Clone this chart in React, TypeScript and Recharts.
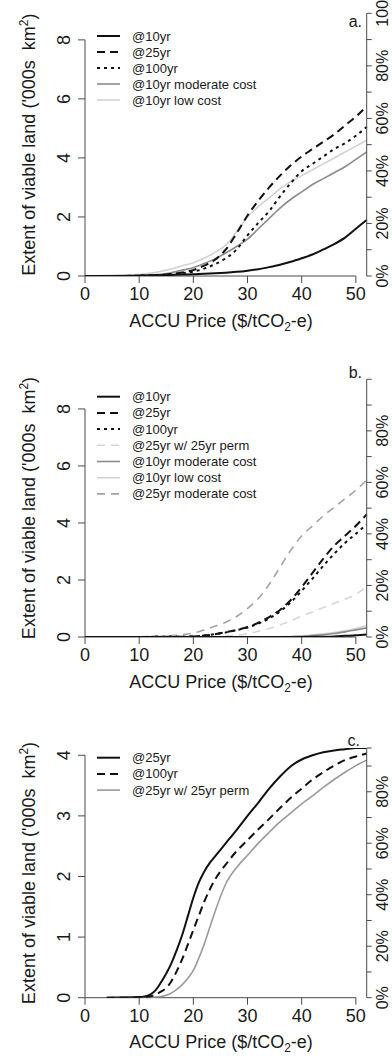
import React from 'react';
import { LineChart, Line, XAxis, YAxis, ReferenceLine } from 'recharts';

const FONT = "'Liberation Sans', Arial, Helvetica, sans-serif";
const AXIS = '#4a4a4a';
const INK = '#1a1a1a';

// ---------- Panel a ----------
const priceA = [0, 5, 10, 15, 18, 20, 22, 24, 26, 28, 30, 32, 34, 36, 38, 40, 42, 44, 46, 48, 50, 52];
const a10yr = [0, 0, 0.01, 0.03, 0.05, 0.06, 0.08, 0.09, 0.11, 0.14, 0.18, 0.23, 0.3, 0.38, 0.48, 0.6, 0.73, 0.9, 1.08, 1.3, 1.6, 1.9];
const a25yr = [0, 0, 0.01, 0.05, 0.12, 0.2, 0.35, 0.55, 0.9, 1.45, 2.05, 2.55, 3.0, 3.4, 3.75, 4.05, 4.3, 4.55, 4.8, 5.1, 5.4, 5.75];
const a100yr = [0, 0, 0.01, 0.04, 0.1, 0.15, 0.25, 0.4, 0.6, 0.9, 1.38, 1.8, 2.2, 2.7, 3.15, 3.55, 3.8, 4.05, 4.3, 4.5, 4.75, 5.05];
const a10yrModerate = [0, 0.01, 0.02, 0.08, 0.2, 0.28, 0.42, 0.58, 0.78, 1.0, 1.25, 1.6, 1.95, 2.3, 2.6, 2.85, 3.1, 3.3, 3.5, 3.7, 3.95, 4.2];
const a10yrLow = [0, 0.02, 0.05, 0.2, 0.35, 0.45, 0.6, 0.8, 1.05, 1.5, 2.0, 2.35, 2.65, 2.95, 3.2, 3.4, 3.6, 3.8, 4.0, 4.2, 4.4, 4.6];

// ---------- Panel b ----------
const priceB = [0, 5, 10, 15, 18, 20, 22, 24, 26, 28, 30, 32, 34, 36, 38, 40, 42, 44, 46, 48, 50, 52];
const b10yr = [0, 0, 0, 0, 0, 0, 0, 0, 0, 0, 0, 0, 0, 0, 0, 0, 0.005, 0.01, 0.02, 0.04, 0.06, 0.09];
const b25yr = [0, 0, 0, 0.01, 0.01, 0.02, 0.05, 0.1, 0.17, 0.25, 0.35, 0.5, 0.7, 0.95, 1.3, 1.75, 2.25, 2.75, 3.2, 3.55, 3.9, 4.3];
const b100yr = [0, 0, 0, 0.01, 0.01, 0.02, 0.05, 0.1, 0.16, 0.24, 0.33, 0.47, 0.65, 0.9, 1.22, 1.62, 2.05, 2.5, 2.92, 3.3, 3.62, 3.95];
const b25yrPerm = [0, 0, 0, 0, 0, 0, 0.005, 0.01, 0.03, 0.06, 0.12, 0.2, 0.3, 0.42, 0.57, 0.73, 0.88, 1.03, 1.18, 1.33, 1.5, 1.78];
const b10yrModerate = [0, 0, 0, 0, 0, 0, 0, 0, 0, 0, 0, 0, 0, 0.005, 0.01, 0.02, 0.05, 0.08, 0.12, 0.18, 0.25, 0.32];
const b10yrLow = [0, 0, 0, 0, 0, 0, 0, 0, 0, 0, 0, 0, 0, 0.01, 0.02, 0.04, 0.07, 0.11, 0.16, 0.22, 0.3, 0.4];
const b25yrModerate = [0, 0, 0.01, 0.03, 0.08, 0.14, 0.25, 0.38, 0.52, 0.72, 1.0, 1.35, 1.85, 2.45, 3.05, 3.55, 3.9, 4.25, 4.55, 4.85, 5.15, 5.5];

// ---------- Panel c ----------
const priceC = [4, 10, 11, 12, 13, 14, 15, 16, 17, 18, 19, 20, 21, 22, 23, 24, 26, 28, 30, 32, 34, 36, 38, 40, 42, 44, 46, 48, 50, 52];
const c25yr = [0, 0.01, 0.02, 0.05, 0.12, 0.25, 0.4, 0.58, 0.8, 1.05, 1.35, 1.65, 1.9, 2.08, 2.22, 2.33, 2.55, 2.77, 3.0, 3.22, 3.45, 3.65, 3.82, 3.93, 4.0, 4.05, 4.08, 4.1, 4.12, 4.12];
const c100yr = [0, 0, 0.01, 0.02, 0.05, 0.1, 0.16, 0.28, 0.45, 0.65, 0.88, 1.12, 1.35, 1.58, 1.78, 1.95, 2.2, 2.42, 2.6, 2.78, 2.95, 3.13, 3.3, 3.45, 3.6, 3.72, 3.83, 3.92, 3.98, 4.03];
const c25yrPerm = [0, 0, 0, 0, 0.01, 0.02, 0.04, 0.08, 0.14, 0.22, 0.32, 0.45, 0.65, 0.88, 1.15, 1.42, 1.88, 2.15, 2.35, 2.55, 2.73, 2.9, 3.05, 3.2, 3.33, 3.47, 3.6, 3.72, 3.83, 3.92];

// ---------- Ticks / labels ----------
const xTicks = [0, 10, 20, 30, 40, 50];
const yTicksAB = [0, 2, 4, 6, 8];
const yTicksC = [0, 1, 2, 3, 4];
const pctTicksFull = [0, 10, 20, 30, 40, 50, 60, 70, 80, 90, 100];
const pctTicksC = [0, 10, 20, 30, 40, 50, 60, 70, 80, 90, 97];
const pctLabelsA: Record<number, string> = { 0: '0%', 20: '20%', 40: '40%', 60: '60%', 80: '80%', 100: '100' };
const pctLabelsBC: Record<number, string> = { 0: '0%', 20: '20%', 40: '40%', 60: '60%', 80: '80%' };

type Spec = { key: string; name: string; values: number[]; color: string; width: number; dash?: string };

const seriesA: Spec[] = [
  { key: 'a10', name: '@10yr', values: a10yr, color: '#111', width: 2 },
  { key: 'a25', name: '@25yr', values: a25yr, color: '#111', width: 2, dash: '8 5' },
  { key: 'a100', name: '@100yr', values: a100yr, color: '#111', width: 2, dash: '3 4' },
  { key: 'aMod', name: '@10yr moderate cost', values: a10yrModerate, color: '#8c8c8c', width: 1.6 },
  { key: 'aLow', name: '@10yr low cost', values: a10yrLow, color: '#d2d2d2', width: 1.6 },
];
const seriesB: Spec[] = [
  { key: 'b10', name: '@10yr', values: b10yr, color: '#111', width: 2 },
  { key: 'b25', name: '@25yr', values: b25yr, color: '#111', width: 2, dash: '8 5' },
  { key: 'b100', name: '@100yr', values: b100yr, color: '#111', width: 2, dash: '3 4' },
  { key: 'bPerm', name: '@25yr w/ 25yr perm', values: b25yrPerm, color: '#d6d6d6', width: 1.6, dash: '8 6' },
  { key: 'bMod', name: '@10yr moderate cost', values: b10yrModerate, color: '#8c8c8c', width: 1.6 },
  { key: 'bLow', name: '@10yr low cost', values: b10yrLow, color: '#d2d2d2', width: 1.6 },
  { key: 'bMod25', name: '@25yr moderate cost', values: b25yrModerate, color: '#a3a3a3', width: 1.6, dash: '8 6' },
];
const seriesC: Spec[] = [
  { key: 'c25', name: '@25yr', values: c25yr, color: '#111', width: 2 },
  { key: 'c100', name: '@100yr', values: c100yr, color: '#111', width: 2, dash: '8 5' },
  { key: 'cPerm', name: '@25yr w/ 25yr perm', values: c25yrPerm, color: '#9a9a9a', width: 1.6 },
];

const toRows = (xs: number[], specs: Spec[]) =>
  xs.map((x, i) => {
    const r: Record<string, number> = { x };
    specs.forEach((s) => { r[s.key] = s.values[i]; });
    return r;
  });

const XTick = (p: any) => (
  <text x={p.x} y={p.y + 17} textAnchor="middle" fontSize={18} fontFamily={FONT} fill={INK}>
    {p.payload.value}
  </text>
);
const LTick = (p: any) => {
  const bx = p.x - 8;
  return (
    <text x={bx} y={p.y} transform={`rotate(-90 ${bx} ${p.y})`} textAnchor="middle" fontSize={18} fontFamily={FONT} fill={INK}>
      {p.payload.value}
    </text>
  );
};
const makeRTick = (labels: Record<number, string>) => (p: any) => {
  const lab = labels[p.payload.value];
  if (!lab) return <g />;
  const bx = p.x + 16;
  return (
    <text x={bx} y={p.y} transform={`rotate(-90 ${bx} ${p.y})`} textAnchor="middle" fontSize={16} fontFamily={FONT} fill={INK}>
      {lab}
    </text>
  );
};

type PanelProps = {
  top: number; height: number; mTop: number; mBottom: number;
  xs: number[]; specs: Spec[]; ymax: number; yTicks: number[]; yTop: number;
  rMax: number; rTicks: number[]; rLabels: Record<number, string>;
};

const Panel = ({ top, height, mTop, mBottom, xs, specs, ymax, yTicks, yTop, rMax, rTicks, rLabels }: PanelProps) => {
  const rows = toRows(xs, specs);
  return (
    <div style={{ position: 'absolute', left: 0, top, width: 392, height }}>
      <LineChart width={392} height={height} data={rows} margin={{ top: mTop, right: 5.3, bottom: mBottom, left: 25 }}>
        <XAxis dataKey="x" type="number" domain={[0, 52]} ticks={xTicks} interval={0} height={30}
          axisLine={false} tickLine={{ stroke: AXIS }} stroke={AXIS} tickSize={7} tickMargin={0} tick={XTick} />
        <YAxis yAxisId="left" type="number" domain={[0, ymax]} ticks={yTicks} interval={0} width={60}
          axisLine={false} tickLine={{ stroke: AXIS }} stroke={AXIS} tickSize={7} tickMargin={0} tick={LTick} allowDataOverflow />
        <YAxis yAxisId="right" orientation="right" type="number" domain={[0, rMax]} ticks={rTicks} interval={0} width={20}
          axisLine={{ stroke: AXIS }} tickLine={{ stroke: AXIS }} stroke={AXIS} tickSize={5} tickMargin={0}
          tick={makeRTick(rLabels)} allowDataOverflow />
        <ReferenceLine yAxisId="left" segment={[{ x: 0, y: 0 }, { x: 50, y: 0 }]} stroke={AXIS} strokeWidth={1} />
        <ReferenceLine yAxisId="left" segment={[{ x: 0, y: 0 }, { x: 0, y: yTop }]} stroke={AXIS} strokeWidth={1} />
        <Line yAxisId="right" dataKey="pctShare" stroke="none" dot={false} activeDot={false} legendType="none"
          isAnimationActive={false} />
        {specs.slice().reverse().map((s) => (
          <Line key={s.key} yAxisId="left" type="monotone" dataKey={s.key} stroke={s.color} strokeWidth={s.width}
            strokeDasharray={s.dash} dot={false} activeDot={false} isAnimationActive={false} />
        ))}
      </LineChart>
    </div>
  );
};

const Legend = ({ specs, y0, step }: { specs: Spec[]; y0: number; step: number }) => (
  <g>
    {specs.map((s, i) => {
      const y = y0 + i * step;
      return (
        <g key={s.key}>
          <line x1={97} x2={120} y1={y} y2={y} stroke={s.color} strokeWidth={s.width} strokeDasharray={s.dash} />
          <text x={132} y={y + 4.5} fontSize={13} fontFamily={FONT} fill={INK}>{s.name}</text>
        </g>
      );
    })}
  </g>
);

const XTitle = ({ y }: { y: number }) => (
  <text x={221} y={y} textAnchor="middle" fontSize={18} fontFamily={FONT} fill={INK}>
    ACCU Price ($/tCO<tspan fontSize={12} dy={4}>2</tspan><tspan dy={-4}>-e)</tspan>
  </text>
);
const YTitle = ({ cy }: { cy: number }) => (
  <text x={35} y={cy} transform={`rotate(-90 35 ${cy})`} textAnchor="middle" fontSize={18} fontFamily={FONT} fill={INK}
    style={{ whiteSpace: 'pre' }}>
    {"Extent of viable land ('000s  km"}<tspan fontSize={12} dy={-7}>2</tspan><tspan dy={7}>)</tspan>
  </text>
);

export default function App() {
  return (
    <div style={{ position: 'absolute', left: 0, top: 0, width: 392, height: 1056, background: '#fff', overflow: 'hidden' }}>
      <Panel top={0} height={340} mTop={13.3} mBottom={34} xs={priceA} specs={seriesA}
        ymax={8.9} yTicks={yTicksAB} yTop={8} rMax={100} rTicks={pctTicksFull} rLabels={pctLabelsA} />
      <Panel top={350} height={350} mTop={29.3} mBottom={33} xs={priceB} specs={seriesB}
        ymax={9.04} yTicks={yTicksAB} yTop={8} rMax={100} rTicks={pctTicksFull} rLabels={pctLabelsBC} />
      <Panel top={710} height={346} mTop={38} mBottom={28.3} xs={priceC} specs={seriesC}
        ymax={4.12} yTicks={yTicksC} yTop={4} rMax={97} rTicks={pctTicksC} rLabels={pctLabelsBC} />
      <svg width={392} height={1056} style={{ position: 'absolute', left: 0, top: 0, pointerEvents: 'none' }}>
        <YTitle cy={144.6} />
        <YTitle cy={508} />
        <YTitle cy={873} />
        <XTitle y={326.5} />
        <XTitle y={687.5} />
        <XTitle y={1048} />
        <text x={362} y={27} textAnchor="end" fontSize={16} fontFamily={FONT} fill={INK}>a.</text>
        <text x={362} y={378} textAnchor="end" fontSize={16} fontFamily={FONT} fill={INK}>b.</text>
        <text x={360} y={746} textAnchor="end" fontSize={16} fontFamily={FONT} fill={INK}>c.</text>
        <Legend specs={seriesA} y0={36} step={16} />
        <Legend specs={seriesB} y0={396.7} step={16.2} />
        <Legend specs={seriesC} y0={757.7} step={16.2} />
      </svg>
    </div>
  );
}
